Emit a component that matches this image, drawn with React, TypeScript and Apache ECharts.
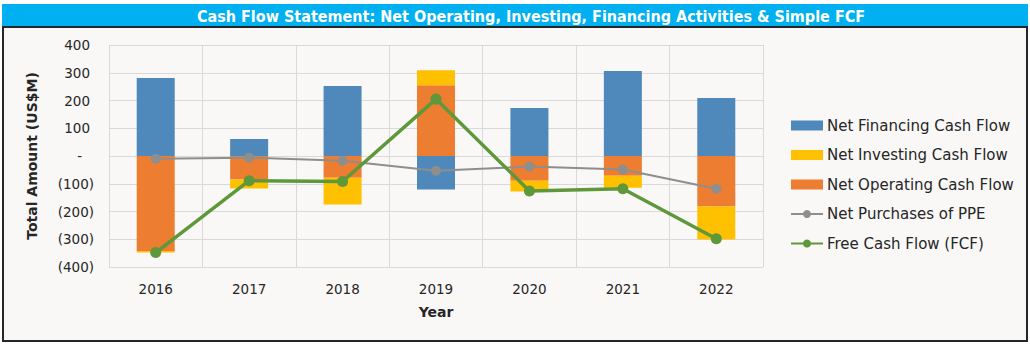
import React, { useEffect, useRef } from "react";
import * as echarts from "echarts";

const years = ["2016", "2017", "2018", "2019", "2020", "2021", "2022"];
const operating = [-342, -85, -78, 255, -89, -71, -182];
const investing = [-6, -32, -97, 54, -39, -43, -119];
const financing = [281, 61, 252, -121, 173, 306, 209];
const ppe = [-10, -6, -17, -53, -38, -49, -118];
const fcf = [-348, -89, -92, 205, -126, -118, -298];

const TITLE = "Cash Flow Statement: Net Operating, Investing, Financing Activities & Simple FCF";
const FONT = "DejaVu Sans";
const TXT = "#262626";

export default function App() {
  const ref = useRef<HTMLDivElement>(null);
  useEffect(() => {
    if (!ref.current) return;
    const chart = echarts.init(ref.current, undefined, { renderer: "svg" });
    chart.setOption({
      animation: false,
      backgroundColor: "transparent",
      textStyle: { fontFamily: FONT },
      graphic: [
        { type: "rect", shape: { x: 2, y: 4, width: 1026, height: 22 }, style: { fill: "#00B0F0" }, silent: true },
        {
          type: "text",
          x: 531,
          y: 16,
          style: {
            text: TITLE,
            fill: "#ffffff",
            font: "bold 16px 'DejaVu Sans Condensed', 'DejaVu Sans'",
            align: "center",
            verticalAlign: "middle",
          },
        },
      ],
      grid: { left: 109, right: 267, top: 45, bottom: 78 },
      legend: {
        orient: "vertical",
        left: 790,
        top: 118,
        padding: 0,
        itemWidth: 32,
        itemHeight: 10,
        itemGap: 14.5,
        textStyle: { fontSize: 15, color: TXT, fontFamily: FONT, padding: [0, 0, 0, -1] },
        data: [
          { name: "Net Financing Cash Flow", icon: "rect" },
          { name: "Net Investing Cash Flow", icon: "rect" },
          { name: "Net Operating Cash Flow", icon: "rect" },
          { name: "Net Purchases of PPE" },
          { name: "Free Cash Flow (FCF)" },
        ],
      },
      xAxis: {
        type: "category",
        data: years,
        name: "Year",
        nameLocation: "middle",
        nameGap: 38,
        nameTextStyle: { fontSize: 14, fontWeight: "bold", color: TXT, fontFamily: FONT },
        axisLine: { show: false, onZero: false },
        axisTick: { show: false },
        axisLabel: { fontSize: 13.5, color: TXT, margin: 15 },
        splitLine: { show: true, lineStyle: { color: "#D9D9D9", width: 1 } },
      },
      yAxis: {
        type: "value",
        min: -400,
        max: 400,
        interval: 100,
        name: "Total Amount (US$M)",
        nameLocation: "middle",
        nameGap: 70,
        nameTextStyle: { fontSize: 14, fontWeight: "bold", color: TXT, fontFamily: FONT },
        axisLine: { show: false },
        axisTick: { show: false },
        splitLine: { lineStyle: { color: "#D9D9D9", width: 1 } },
        axisLabel: {
          margin: 15,
          color: TXT,
          fontSize: 13.5,
          formatter: (v: number) =>
            v === 0 ? "{z|-}" : v < 0 ? `{n|(${-v})}` : `{p|${v}}`,
          rich: {
            z: { fontSize: 13.5, color: TXT, padding: [0, 12, 0, 0] },
            n: { fontSize: 13.5, color: TXT },
            p: { fontSize: 13.5, color: TXT, padding: [0, 4, 0, 0] },
          },
        },
      },
      series: [
        {
          name: "Net Operating Cash Flow",
          type: "bar",
          stack: "cf",
          barWidth: 38,
          data: operating,
          itemStyle: { color: "#ED7D31" },
        },
        {
          name: "Net Investing Cash Flow",
          type: "bar",
          stack: "cf",
          barWidth: 38,
          data: investing,
          itemStyle: { color: "#FFC000" },
        },
        {
          name: "Net Financing Cash Flow",
          type: "bar",
          stack: "cf",
          barWidth: 38,
          data: financing,
          itemStyle: { color: "#4F88BB" },
        },
        {
          name: "Net Purchases of PPE",
          type: "line",
          data: ppe,
          symbol: "circle",
          symbolSize: 10,
          z: 5,
          itemStyle: { color: "#8E8E8E" },
          lineStyle: { color: "#8E8E8E", width: 2 },
        },
        {
          name: "Free Cash Flow (FCF)",
          type: "line",
          data: fcf,
          symbol: "circle",
          symbolSize: 11,
          z: 6,
          itemStyle: { color: "#5E983B" },
          lineStyle: { color: "#5E983B", width: 3.5 },
        },
      ],
    });
    return () => chart.dispose();
  }, []);

  return (
    <div style={{ position: "absolute", left: 0, top: 0, width: 1030, height: 345, background: "#ffffff" }}>
      <div
        style={{
          position: "absolute",
          left: 2,
          top: 26,
          width: 1026,
          height: 316,
          boxSizing: "border-box",
          border: "2px solid #262626",
          background: "#F9F8F6",
        }}
      />
      <div ref={ref} style={{ position: "absolute", left: 0, top: 0, width: 1030, height: 345 }} />
    </div>
  );
}
